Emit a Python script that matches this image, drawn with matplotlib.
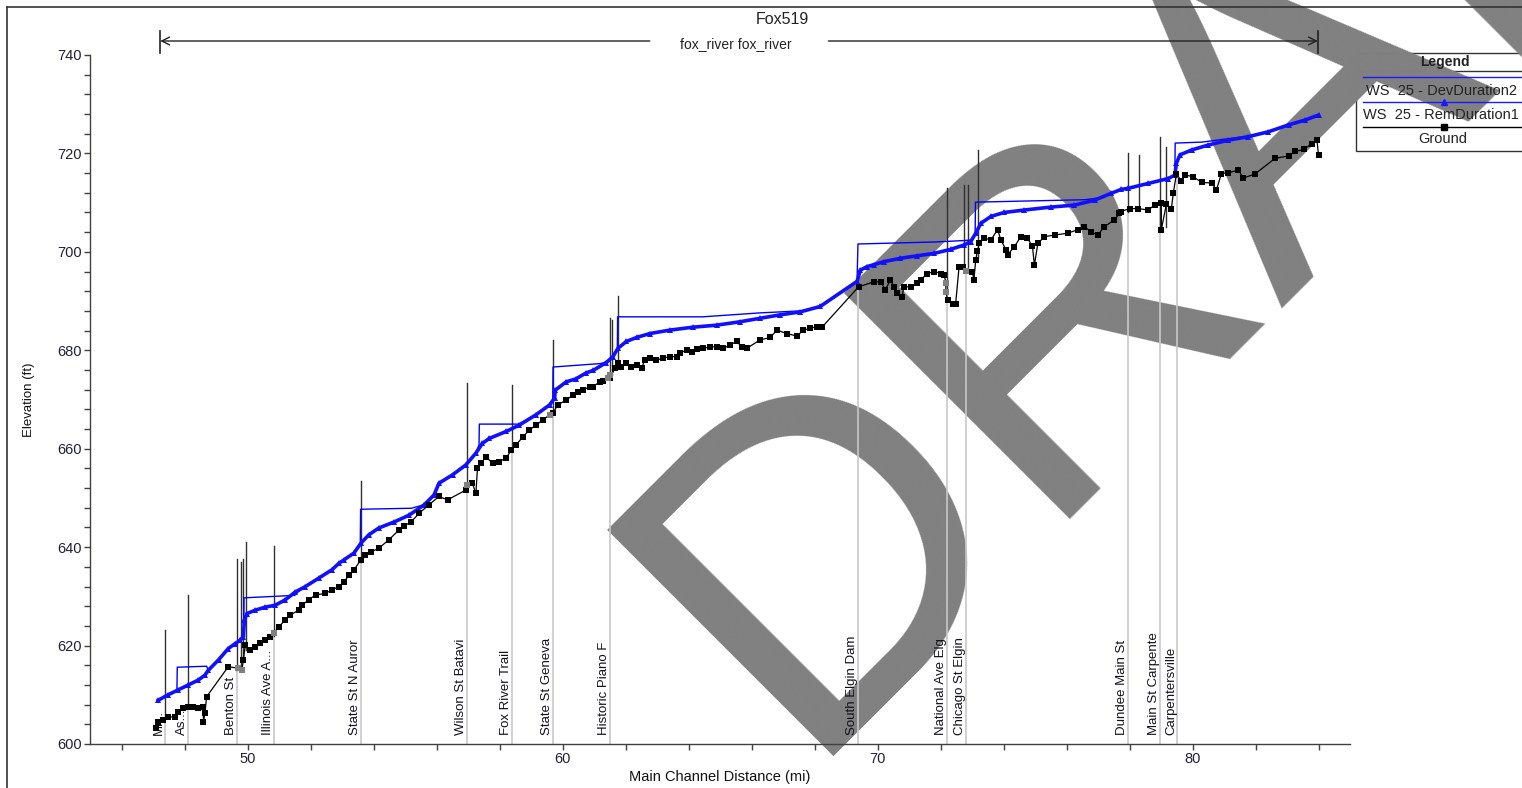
import matplotlib
matplotlib.use("Agg")
import matplotlib.pyplot as plt
from matplotlib.lines import Line2D
from matplotlib.patches import Rectangle
from matplotlib.ticker import MultipleLocator, FuncFormatter
import matplotlib.transforms as mtransforms

plt.rcParams['font.family'] = ['Liberation Sans', 'DejaVu Sans']

W, H = 1522, 788

# ---- profile data: main channel distance (mi) and elevation (ft) ----
ground_sta = [47.08, 47.17, 47.32, 47.48, 47.70, 47.80, 47.96, 48.12, 48.28, 48.44,
              48.60, 48.60, 48.65, 48.70, 49.39, 49.71, 49.82, 49.87, 49.93, 50.09,
              50.25, 50.40, 50.56, 50.72, 50.83, 50.99, 51.20, 51.36, 51.62, 51.73,
              51.94, 52.16, 52.47, 52.68, 52.90, 53.06, 53.22, 53.38, 53.60, 53.73,
              53.92, 54.17, 54.49, 54.81, 54.97, 55.19, 55.45, 55.76, 56.08, 56.35,
              56.93, 56.98, 57.14, 57.25, 57.30, 57.41, 57.57, 57.78, 57.99, 58.21,
              58.37, 58.53, 58.74, 58.95, 59.16, 59.37, 59.59, 59.69, 59.85, 60.12,
              60.33, 60.49, 60.65, 60.86, 60.97, 61.18, 61.28, 61.50, 61.66, 61.76,
              61.87, 62.03, 62.19, 62.35, 62.51, 62.61, 62.77, 62.98, 63.19, 63.41,
              63.62, 63.73, 63.94, 64.10, 64.26, 64.47, 64.68, 64.89, 65.11, 65.32,
              65.53, 65.69, 65.85, 66.27, 66.59, 66.81, 67.12, 67.44, 67.65, 67.87,
              68.08, 68.24, 69.40, 69.88, 70.10, 70.25, 70.41, 70.52, 70.62, 70.78,
              70.84, 71.05, 71.26, 71.37, 71.58, 71.80, 72.01, 72.12, 72.17, 72.17,
              72.23, 72.39, 72.48, 72.59, 72.70, 72.80, 73.01, 73.06, 73.12, 73.17,
              73.23, 73.39, 73.60, 73.81, 73.92, 74.08, 74.13, 74.34, 74.55, 74.76,
              74.92, 74.98, 75.09, 75.30, 75.62, 76.04, 76.36, 76.57, 76.78, 76.99,
              77.20, 77.52, 77.68, 77.74, 78.00, 78.27, 78.59, 78.80, 79.01, 79.01,
              79.17, 79.33, 79.39, 79.49, 79.65, 79.76, 80.02, 80.29, 80.61, 80.76,
              80.92, 81.14, 81.46, 81.61, 81.98, 82.62, 83.05, 83.26, 83.53, 83.79,
              83.95, 84.00]
ground_elev = [603.2, 604.5, 604.9, 605.5, 605.5, 606.6, 607.3, 607.6, 607.6, 607.3,
               607.6, 604.5, 606.2, 609.6, 615.7, 615.4, 615.0, 617.1, 620.1, 619.1,
               619.8, 620.5, 621.1, 621.8, 622.5, 623.8, 625.2, 626.2, 627.2, 628.2,
               629.3, 630.3, 630.6, 631.3, 632.0, 632.9, 634.3, 635.4, 637.4, 638.4,
               639.0, 639.8, 641.5, 643.5, 644.3, 645.1, 646.9, 648.6, 650.3, 649.6,
               651.6, 652.6, 653.0, 650.9, 656.0, 657.0, 658.4, 657.0, 657.4, 658.1,
               659.7, 660.8, 662.4, 663.8, 664.8, 665.8, 666.9, 667.2, 668.9, 669.9,
               670.9, 671.6, 671.9, 672.6, 672.6, 673.6, 673.8, 674.3, 676.3, 677.4,
               676.7, 677.4, 676.7, 677.0, 676.3, 678.0, 678.4, 678.0, 678.4, 678.7,
               678.7, 679.4, 680.1, 679.7, 680.2, 680.4, 680.7, 680.7, 680.4, 681.1,
               681.8, 680.7, 680.4, 682.1, 682.6, 684.1, 683.4, 682.9, 684.1, 684.5,
               684.8, 684.7, 692.9, 693.9, 693.9, 692.3, 694.3, 692.9, 691.6, 690.9,
               692.9, 692.9, 693.6, 694.3, 695.6, 696.0, 695.6, 695.3, 693.6, 691.9,
               690.2, 689.4, 689.4, 697.0, 697.0, 696.2, 696.0, 694.3, 698.4, 700.1,
               701.7, 702.8, 702.4, 704.5, 702.4, 700.4, 699.4, 701.0, 703.1, 702.8,
               701.1, 697.3, 701.7, 703.1, 703.4, 703.8, 704.5, 705.1, 704.1, 703.4,
               705.1, 706.5, 707.8, 708.2, 708.8, 708.8, 708.5, 709.5, 709.9, 704.5,
               709.7, 708.8, 711.9, 715.9, 714.3, 715.6, 715.3, 714.1, 714.0, 712.6,
               715.9, 716.1, 716.6, 715.0, 715.8, 719.0, 719.5, 720.4, 720.8, 722.0,
               722.7, 719.7]

# ground at bridge sections
bridge_sta = [49.71, 49.82, 50.83, 56.98, 59.59, 61.43, 61.50, 72.17, 72.17, 72.80]
bridge_elev = [615.4, 615.0, 622.5, 652.6, 666.9, 674.4, 675.0, 693.6, 691.9, 696.2]

# WS 25 - RemDuration1
ws_rem_sta = [47.17, 47.48, 47.80, 48.12, 48.44, 48.65, 48.76, 49.08, 49.39, 49.61,
              49.77, 49.87, 49.90, 49.98, 50.25, 50.56, 50.88, 51.20, 51.52, 51.84,
              52.26, 52.68, 52.90, 53.06, 53.38, 53.60, 53.85, 54.17, 54.65, 55.13,
              55.61, 55.92, 56.08, 56.51, 56.93, 57.25, 57.46, 57.68, 58.21, 58.63,
              59.16, 59.59, 59.75, 59.77, 60.12, 60.43, 60.75, 60.97, 61.39, 61.60,
              61.76, 62.03, 62.35, 62.77, 63.41, 64.15, 64.89, 65.64, 66.27, 66.91,
              67.55, 68.18, 69.35, 69.46, 69.67, 69.88, 70.20, 70.73, 71.26, 71.80,
              72.32, 72.75, 72.96, 73.12, 73.28, 73.60, 74.02, 74.66, 75.51, 76.25,
              76.89, 77.42, 77.74, 77.95, 78.59, 79.23, 79.44, 79.49, 79.60, 79.97,
              80.50, 81.14, 81.77, 82.41, 83.05, 83.58, 84.00]
ws_rem_elev = [608.9, 610.0, 611.0, 612.0, 613.0, 614.0, 615.0, 617.1, 619.4, 620.4,
               621.1, 621.8, 625.2, 626.5, 627.2, 627.8, 628.2, 629.3, 630.9, 632.0,
               633.7, 635.4, 636.7, 637.4, 638.8, 640.8, 642.5, 643.9, 645.1, 646.5,
               648.6, 650.6, 653.0, 654.7, 656.7, 659.1, 661.1, 662.1, 663.5, 664.8,
               666.9, 668.9, 670.3, 671.9, 673.6, 674.2, 675.4, 675.9, 677.5, 678.7,
               680.4, 681.8, 682.6, 683.4, 684.1, 684.7, 685.1, 685.8, 686.5, 687.2,
               687.8, 688.9, 694.0, 696.3, 697.0, 697.4, 698.0, 698.7, 699.2, 699.7,
               700.5, 701.4, 702.1, 703.8, 705.8, 707.2, 708.0, 708.5, 709.1, 709.5,
               710.5, 711.9, 712.7, 712.9, 713.9, 714.9, 715.6, 718.0, 719.7, 720.7,
               721.7, 722.7, 723.4, 724.4, 725.8, 726.8, 727.8]

# WS 25 - DevDuration2
ws_dev_sta = [47.17, 47.48, 47.76, 47.77, 48.70, 48.76, 49.08, 49.39, 49.61, 49.77,
              49.88, 49.89, 51.50, 51.65, 52.26, 52.68, 52.90, 53.38, 53.58, 53.59,
              55.20, 55.61, 55.92, 56.08, 56.51, 56.93, 57.25, 57.35, 57.36, 58.60,
              59.16, 59.59, 59.69, 59.70, 61.20, 61.39, 61.60, 61.74, 61.75, 64.45,
              66.27, 67.55, 68.18, 69.35, 69.38, 71.80, 72.75, 72.96, 73.10, 73.11,
              76.60, 77.10, 77.42, 77.74, 77.95, 78.59, 79.23, 79.44, 79.45, 80.30,
              80.90, 81.77, 82.41, 83.05, 83.58, 84.00]
ws_dev_elev = [608.9, 610.0, 610.9, 615.6, 615.8, 615.0, 617.1, 619.4, 620.4, 621.1,
               622.0, 629.7, 630.2, 631.2, 633.7, 635.4, 636.7, 638.8, 640.6, 647.7,
               647.9, 648.6, 650.6, 653.0, 654.7, 656.7, 659.1, 660.8, 665.0, 665.0,
               666.9, 668.9, 669.5, 676.6, 677.3, 677.6, 678.7, 680.0, 686.8, 686.8,
               687.6, 688.0, 688.9, 694.0, 701.6, 702.0, 702.3, 702.4, 703.6, 710.1,
               710.6, 711.0, 711.9, 712.7, 712.9, 713.9, 714.9, 715.6, 722.1, 722.3,
               722.8, 723.5, 724.5, 725.8, 726.8, 727.8]

# structures: station, label, ground at station
struct_sta = [47.39, 48.12, 49.68, 50.83, 53.60, 56.97, 58.41, 59.71, 61.50,
              69.39, 72.20, 72.80, 77.96, 78.98, 79.52]
struct_name = ['Mi...', 'As...', 'Benton St', 'Illinois Ave A...', 'State St N Auror',
               'Wilson St Batavi', 'Fox River Trail', 'State St Geneva', 'Historic Piano F',
               'South Elgin Dam', 'National Ave Elg', 'Chicago St Elgin', 'Dundee Main St',
               'Main St Carpente', 'Carpentersville']
struct_ground = [605.0, 607.6, 615.0, 622.0, 637.0, 652.0, 660.0, 667.0, 675.0,
                 693.0, 692.0, 696.0, 708.0, 709.0, 715.0]

# high chord / deck lines: station, low end, high end
deck_sta = [47.39, 48.12, 49.68, 49.78, 49.87, 49.94, 50.83, 53.60, 56.97, 58.41,
            59.71, 61.50, 61.56, 61.75, 72.20, 72.74, 72.87, 73.18, 77.96, 78.31,
            78.98, 79.17]
deck_low = [605.0, 607.6, 615.0, 615.0, 617.0, 619.0, 622.0, 637.0, 652.0, 660.0,
            667.0, 675.0, 675.0, 677.0, 692.0, 696.0, 696.0, 699.0, 708.0, 709.0,
            704.5, 705.0]
deck_high = [623.2, 630.3, 637.6, 637.0, 637.6, 641.1, 640.2, 653.4, 673.4, 673.0,
             682.1, 686.6, 686.2, 691.0, 713.0, 713.6, 713.6, 720.7, 720.1, 719.7,
             723.3, 721.3]

reach_start, reach_end = 47.23, 83.98

# ---- figure ----
fig = plt.figure(figsize=(W / 100, H / 100), dpi=100)
fig.patch.set_facecolor('white')


def fx(px):
    return px / W


def fy(py):
    return 1 - py / H


ax = fig.add_axes([fx(90), fy(744), fx(1350) - fx(90), fy(55) - fy(744)])
ax.set_xlim(45, 85)
ax.set_ylim(600, 740)
ax.patch.set_alpha(0)
ax.set_zorder(1)

for s in ['top', 'right']:
    ax.spines[s].set_visible(False)
for s in ['left', 'bottom']:
    ax.spines[s].set_color('#404040')
    ax.spines[s].set_linewidth(1.0)

ax.xaxis.set_major_locator(MultipleLocator(2))
ax.yaxis.set_major_locator(MultipleLocator(4))
ax.xaxis.set_major_formatter(FuncFormatter(lambda v, p: f"{v:.0f}" if abs(v % 10) < 1e-6 else ""))
ax.yaxis.set_major_formatter(FuncFormatter(lambda v, p: f"{v:.0f}" if abs(v % 20) < 1e-6 else ""))
ax.tick_params(axis='both', length=4, width=1, color='#404040', labelsize=10.5,
               labelcolor='#20203a', pad=2)

ax.set_xlabel('Main Channel Distance (mi)', fontsize=10.5, color='#111111', labelpad=3)
ax.set_ylabel('Elevation (ft)', fontsize=9.5, color='#111111', labelpad=16)

# structure reference lines and labels
for s, g, name in zip(struct_sta, struct_ground, struct_name):
    ax.plot([s, s], [600, g], color='#c8c8c8', lw=1.2, zorder=1)
    ax.text(s, 601.8, name, rotation=90, ha='right', va='bottom', fontsize=9.5,
            color='#111118', zorder=2)

for s, lo, hi in zip(deck_sta, deck_low, deck_high):
    ax.plot([s, s], [lo, hi], color='#303030', lw=1.0, zorder=3)

# water surfaces
ax.plot(ws_dev_sta, ws_dev_elev, color='#0000ff', lw=1.0, zorder=4)
ax.plot(ws_rem_sta, ws_rem_elev, color='#1010ff', lw=2.6, marker='^', ms=4,
        markeredgewidth=0, zorder=5)

# ground
ax.plot(ground_sta, ground_elev, color='black', lw=0.9, marker='s', ms=5,
        markeredgewidth=0, zorder=6)
ax.plot(bridge_sta, bridge_elev, ls='none', color='#808080', marker='s', ms=5,
        markeredgewidth=0, zorder=7)

# ---- header: title and reach arrow ----
fig.text(fx(782), fy(20), 'Fox519', ha='center', va='center', fontsize=11.5,
         color='#222222', zorder=3)
trans = mtransforms.blended_transform_factory(ax.transData, fig.transFigure)
ya = fy(41)
gap_left, gap_right = 62.77, 68.44
ax.annotate('', xy=(reach_start, ya), xycoords=trans, xytext=(gap_left, ya), textcoords=trans,
            arrowprops=dict(arrowstyle='->', color='#222222', lw=1.0, shrinkA=0, shrinkB=0,
                            mutation_scale=14), annotation_clip=False)
ax.annotate('', xy=(reach_end, ya), xycoords=trans, xytext=(gap_right, ya), textcoords=trans,
            arrowprops=dict(arrowstyle='->', color='#222222', lw=1.0, shrinkA=0, shrinkB=0,
                            mutation_scale=14), annotation_clip=False)
for s in (reach_start, reach_end):
    fig.add_artist(Line2D([s, s], [fy(31), fy(53)], transform=trans, color='#222222', lw=1.2,
                          zorder=3))
fig.text(fx(736), fy(44), 'fox_river fox_river', ha='center', va='center', fontsize=10,
         color='#222222', zorder=3)

# ---- legend panel ----
fig.add_artist(Rectangle((fx(1356), fy(151)), fx(1600) - fx(1356), fy(53) - fy(151),
                         transform=fig.transFigure, facecolor='white', edgecolor='#333333',
                         lw=1.0, zorder=-3))
fig.add_artist(Line2D([fx(1356), fx(1522)], [fy(71), fy(71)], color='#333333', lw=1.0, zorder=-3))
fig.text(fx(1445), fy(62), 'Legend', ha='center', va='center', fontsize=10,
         fontweight='bold', color='#222222', zorder=3)
fig.add_artist(Line2D([fx(1363), fx(1522)], [fy(77), fy(77)], color='#1a1aff', lw=1.0, zorder=3))
fig.text(fx(1441), fy(91), 'WS  25 - DevDuration2', ha='center', va='center', fontsize=10.5,
         color='#222222', zorder=3)
fig.add_artist(Line2D([fx(1363), fx(1522)], [fy(102), fy(102)], color='#1a1aff', lw=1.0, zorder=3))
fig.add_artist(Line2D([fx(1444)], [fy(102)], color='#1a1aff', marker='^', ms=5, zorder=3))
fig.text(fx(1441), fy(115), 'WS  25 - RemDuration1', ha='center', va='center', fontsize=10.5,
         color='#222222', zorder=3)
fig.add_artist(Line2D([fx(1363), fx(1522)], [fy(127), fy(127)], color='black', lw=1.0, zorder=3))
fig.add_artist(Line2D([fx(1444)], [fy(127)], color='black', marker='s', ms=5, zorder=3))
fig.text(fx(1443), fy(139), 'Ground', ha='center', va='center', fontsize=10.5,
         color='#222222', zorder=3)

# outer frame
fig.add_artist(Line2D([fx(7), fx(7)], [fy(7), fy(800)], color='#333333', lw=1.2, zorder=3))
fig.add_artist(Line2D([fx(7), fx(1530)], [fy(7), fy(7)], color='#333333', lw=1.2, zorder=3))

# draft watermark, behind the plotted data
fig.text(fx(796), fy(756), 'DRAFT', rotation=45, rotation_mode='anchor', ha='left',
         va='baseline', fontsize=335, color='#808080', zorder=-1)

fig.savefig('out.png', dpi=100)
